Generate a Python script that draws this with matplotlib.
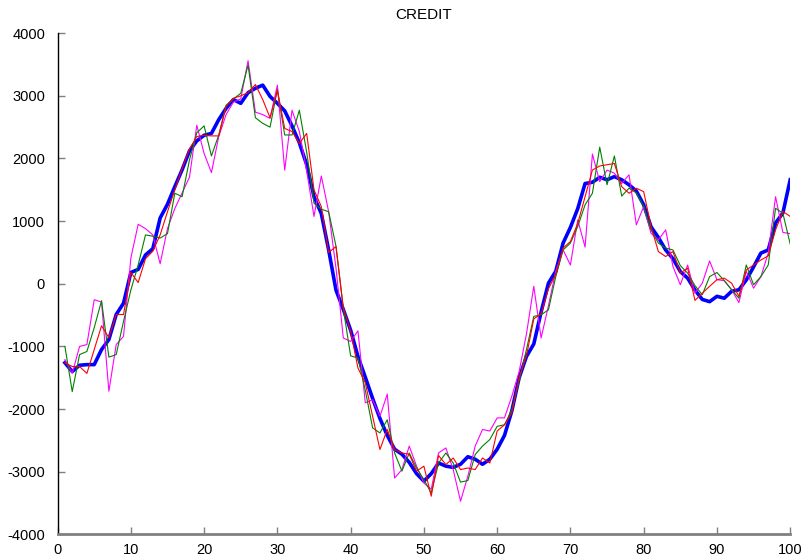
import matplotlib
matplotlib.use("Agg")
import matplotlib.pyplot as plt
import numpy as np

# Period index
x = list(range(1, 101))

# Smoothed credit series (thick blue)
credit_smooth = [
    -1260, -1400, -1300, -1290, -1290, -1050, -890, -490, -310, 180,
    230, 460, 560, 1050, 1270, 1550, 1820, 2120, 2280, 2370,
    2400, 2620, 2800, 2940, 2880, 3050, 3120, 3170, 2990, 2880,
    2760, 2520, 2250, 1900, 1390, 1120, 540, -100, -410, -740,
    -1160, -1490, -1830, -2150, -2420, -2640, -2720, -2850, -3030, -3150,
    -3030, -2860, -2910, -2930, -2880, -2760, -2800, -2880, -2800, -2640,
    -2420, -2030, -1500, -1160, -960, -450, 10, 200, 650, 900,
    1200, 1600, 1620, 1700, 1660, 1710, 1660, 1580, 1480, 1260,
    910, 740, 540, 400, 195, 90, -100, -250, -285, -200,
    -230, -120, -95, 60, 270, 490, 540, 970, 1130, 1660,
]

# Red series
credit_red = [
    -1260, -1320, -1320, -1430, -1050, -670, -860, -490, -490, 180,
    20, 400, 520, 780, 1150, 1500, 1840, 2150, 2350, 2370,
    2360, 2360, 2830, 2960, 3000, 3050, 3180, 2940, 2650, 3090,
    2480, 2430, 2240, 2400, 1500, 1230, 500, 595, -380, -760,
    -1345, -1580, -2115, -2645, -2325, -2645, -2700, -2720, -2990, -2910,
    -3390, -2740, -2885, -2780, -2965, -2940, -2965, -2780, -2860, -2350,
    -2250, -2060, -1500, -1150, -560, -480, -80, 150, 570, 675,
    965, 1390, 1815, 1880, 1900, 1920, 1550, 1445, 1525, 1470,
    915, 515, 435, 515, 170, 250, -265, -150, -40, 65,
    90, 10, -200, 220, 300, 380, 445, 860, 1155, 1075,
]

# Green series
credit_green = [
    -1000, -1720, -1130, -1080, -700, -270, -1170, -1130, -600, -100,
    300, 780, 760, 730, 800, 1445, 1390, 1975, 2410, 2520,
    2040, 2375, 2850, 2950, 3040, 3490, 2650, 2560, 2500, 3100,
    2375, 2375, 2770, 2100, 1285, 1190, 1150, 600, -400, -1150,
    -1185, -1700, -2300, -2380, -2170, -2700, -2990, -2700, -2940, -3125,
    -3340, -2860, -2700, -2860, -3165, -3140, -2725, -2590, -2485, -2275,
    -2250, -2010, -1550, -1050, -520, -495, -415, 115, 540, 650,
    915, 1260, 1445, 2180, 1580, 2040, 1400, 1525, 1450, 1235,
    860, 650, 570, 540, 290, 170, -30, -175, 115, 180,
    50, -95, -230, 300, -15, 115, 300, 1205, 1125, 635,
]

# Magenta series
credit_magenta = [
    -1210, -1430, -1000, -970, -255, -290, -1715, -970, -840, 410,
    950, 880, 780, 320, 880, 1200, 1450, 1700, 2530, 2080,
    1775, 2350, 2700, 2900, 2950, 3560, 2740, 2700, 2640, 3170,
    1815, 2770, 2430, 1800, 1075, 1720, 1150, 250, -865, -920,
    -750, -1900, -1850, -2115, -1760, -3100, -2965, -2590, -2910, -3180,
    -3280, -2700, -2620, -2965, -3470, -3070, -2590, -2325, -2350, -2140,
    -2140, -1795, -1400, -800, -40, -865, -350, 200, 540, 300,
    1020, 585, 2070, 1630, 1815, 1765, 1600, 1740, 940, 1235,
    805, 700, 860, 275, -15, 300, -150, 10, 365, 65,
    50, -95, -300, 200, -70, 115, 490, 1390, 820, 800,
]

x_ticks = [0, 10, 20, 30, 40, 50, 60, 70, 80, 90, 100]
y_ticks = [-4000, -3000, -2000, -1000, 0, 1000, 2000, 3000, 4000]

tick_font = ["Liberation Sans Narrow", "Liberation Sans", "DejaVu Sans"]

fig = plt.figure(figsize=(8.02, 5.57), dpi=100)
ax = fig.add_axes([0.0718, 0.0405, 0.9135, 0.9])

ax.plot(x, credit_smooth, color="#0000ff", lw=2.6, zorder=2, solid_joinstyle="round")
ax.plot(x, credit_magenta, color="#ff00ff", lw=0.8, zorder=3)
ax.plot(x, credit_green, color="#008000", lw=0.8, zorder=4)
ax.plot(x, credit_red, color="#ff0000", lw=0.8, zorder=5)

ax.set_xlim(0, 100)
ax.set_ylim(-4000, 4000)
ax.set_xticks(x_ticks)
ax.set_yticks(y_ticks)
ax.set_xticklabels([str(v) for v in x_ticks], fontfamily=tick_font, fontsize=10.5)
ax.set_yticklabels([str(v) for v in y_ticks], fontfamily=tick_font, fontsize=10.5)

ax.tick_params(axis="both", direction="in", length=5, width=1, color="#808080", pad=6)
ax.tick_params(axis="y", pad=9)

for side in ("top", "right"):
    ax.spines[side].set_visible(False)
ax.spines["left"].set_color("black")
ax.spines["left"].set_linewidth(1.0)
ax.spines["bottom"].set_color("#808080")
ax.spines["bottom"].set_linewidth(2.0)

ax.set_title("CREDIT", fontfamily=["Liberation Sans", "DejaVu Sans"], fontsize=11, pad=10)

fig.savefig("out.png", dpi=100)
